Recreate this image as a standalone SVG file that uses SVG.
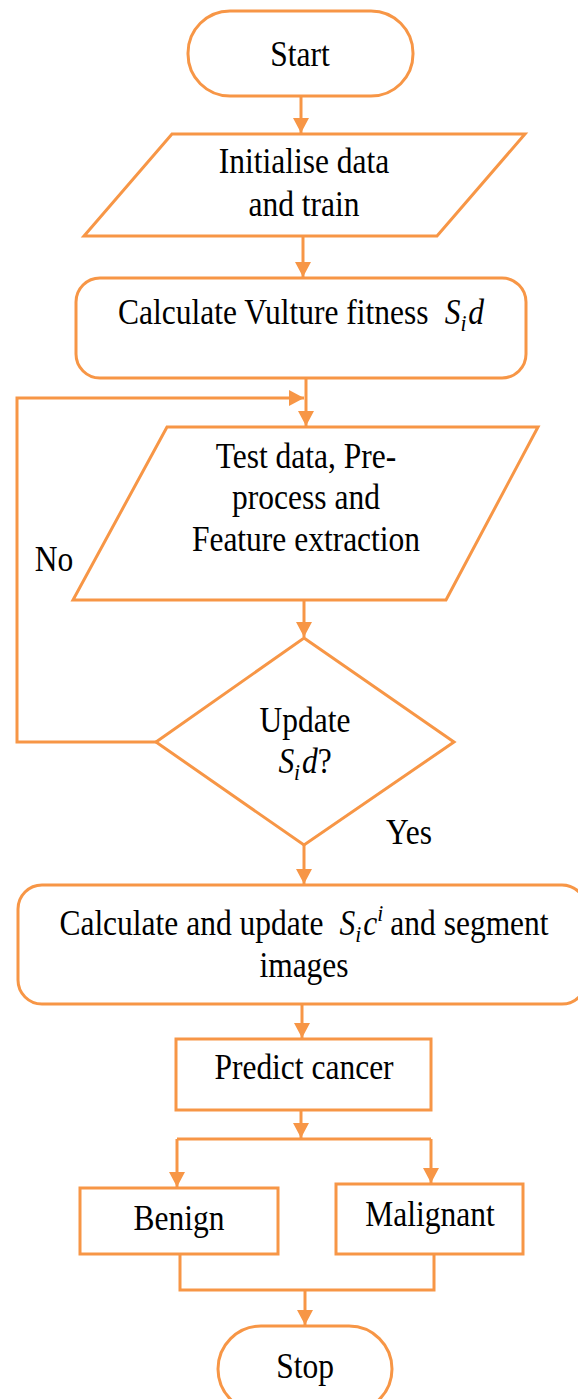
<svg xmlns="http://www.w3.org/2000/svg" width="578" height="1399" viewBox="0 0 578 1399">
  <style>
    .s{fill:#fff;stroke:#F79646;stroke-width:3}
    .c{fill:none;stroke:#F79646;stroke-width:3}
    .t{font-family:"Liberation Serif","Times New Roman",serif;font-size:35px;fill:#000;text-anchor:middle}
    .m{font-style:italic}
    .sb{font-style:italic;font-size:24px}
  </style>
  <defs>
    <marker id="ah" markerUnits="userSpaceOnUse" markerWidth="16" markerHeight="16" refX="15" refY="8" orient="auto">
      <path d="M0,0 L15,8 L0,16 z" fill="#F79646"/>
    </marker>
  </defs>
  <rect width="578" height="1399" fill="#fff"/>

  <!-- connectors -->
  <g id="connectors" class="c">
    <path d="M301,96 V133" marker-end="url(#ah)"/>
    <path d="M303,236 V277" marker-end="url(#ah)"/>
    <path d="M306,378 V426" marker-end="url(#ah)"/>
    <path d="M156,742 H17 V398 H304" marker-end="url(#ah)"/>
    <path d="M304,600 V637" marker-end="url(#ah)"/>
    <path d="M304,845 V884" marker-end="url(#ah)"/>
    <path d="M302,1004 V1038" marker-end="url(#ah)"/>
    <path d="M301,1110 V1138" marker-end="url(#ah)"/>
    <path d="M177,1139 H431"/>
    <path d="M177,1139 V1187" marker-end="url(#ah)"/>
    <path d="M431,1139 V1183" marker-end="url(#ah)"/>
    <path d="M180,1254 V1290 H434 V1254"/>
    <path d="M305,1290 V1325" marker-end="url(#ah)"/>
  </g>

  <g id="start">
    <rect class="s" x="188" y="11" width="225" height="85" rx="42"/>
    <text class="t" transform="translate(300,66) scale(0.9,1)">Start</text>
  </g>

  <g id="init">
    <polygon class="s" points="172,134 525,134 437,236 84,236"/>
    <text class="t" transform="translate(304,173) scale(0.9,1)">Initialise data</text>
    <text class="t" transform="translate(304,216) scale(0.9,1)">and train</text>
  </g>

  <g id="fitness">
    <rect class="s" x="76" y="278" width="450" height="100" rx="24"/>
    <text class="t" transform="translate(301,324) scale(0.9,1)">Calculate Vulture fitness<tspan class="m" dx="18">S</tspan><tspan class="sb" dy="7">i</tspan><tspan class="m" dy="-7" dx="2">d</tspan></text>
  </g>

  <g id="test">
    <polygon class="s" points="167,427 538,427 446,600 73,600"/>
    <text class="t" transform="translate(306,468) scale(0.9,1)">Test data, Pre-</text>
    <text class="t" transform="translate(306,509) scale(0.9,1)">process and</text>
    <text class="t" transform="translate(306,551) scale(0.9,1)">Feature extraction</text>
  </g>

  <g id="decision">
    <polygon class="s" points="304,638 454,742 304,845 156,742"/>
    <text class="t" transform="translate(305,732) scale(0.9,1)">Update</text>
    <text class="t" transform="translate(305,773) scale(0.9,1)"><tspan class="m">S</tspan><tspan class="sb" dy="7">i</tspan><tspan class="m" dy="-7" dx="2">d</tspan>?</text>
  </g>

  <g id="labels">
    <text class="t" transform="translate(54,571) scale(0.9,1)">No</text>
    <text class="t" transform="translate(409,844) scale(0.9,1)">Yes</text>
  </g>

  <g id="segment">
    <rect class="s" x="18" y="885" width="568" height="119" rx="24"/>
    <text class="t" transform="translate(304,935) scale(0.9,1)">Calculate and update<tspan class="m" dx="18">S</tspan><tspan class="sb" dy="7">i</tspan><tspan class="m" dy="-7" dx="2">c</tspan><tspan class="sb" dy="-14">i</tspan><tspan dy="14" dx="8">and segment</tspan></text>
    <text class="t" transform="translate(304,977) scale(0.9,1)">images</text>
  </g>

  <g id="predict">
    <rect class="s" x="176" y="1039" width="255" height="71"/>
    <text class="t" transform="translate(304,1079) scale(0.9,1)">Predict cancer</text>
  </g>

  <g id="benign">
    <rect class="s" x="80" y="1188" width="198" height="66"/>
    <text class="t" transform="translate(179,1230) scale(0.9,1)">Benign</text>
  </g>

  <g id="malignant">
    <rect class="s" x="336" y="1184" width="187" height="70"/>
    <text class="t" transform="translate(430,1226) scale(0.9,1)">Malignant</text>
  </g>

  <g id="stop">
    <rect class="s" x="218" y="1326" width="174" height="86" rx="43"/>
    <text class="t" transform="translate(305,1378) scale(0.9,1)">Stop</text>
  </g>
</svg>
